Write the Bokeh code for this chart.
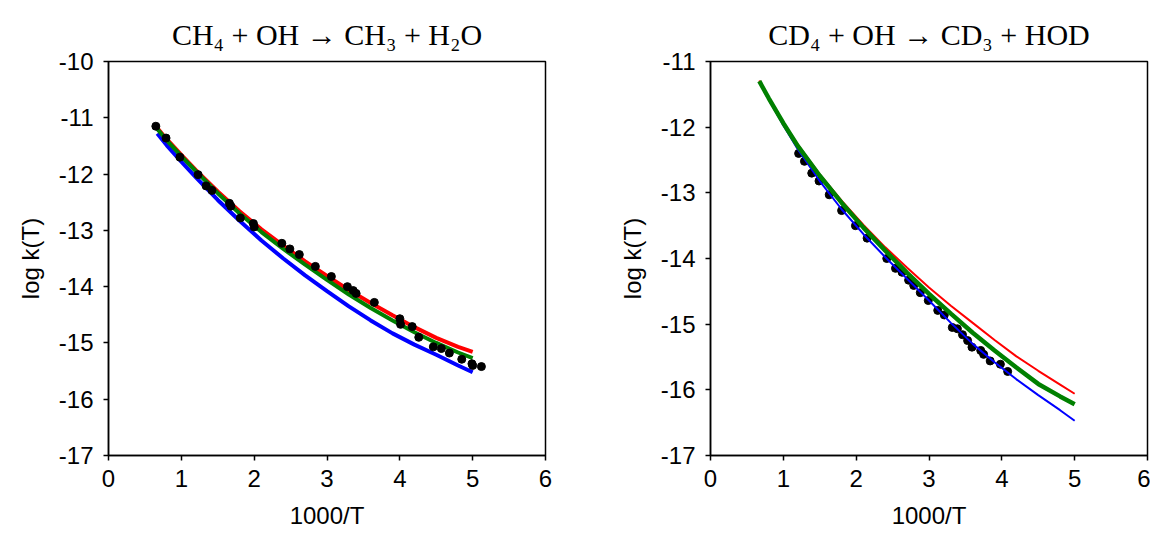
from bokeh.plotting import figure
from bokeh.layouts import row
from bokeh.models import FixedTicker
from bokeh.embed import file_html
from bokeh.resources import INLINE

# ---------------- data: CH4 + OH ----------------
ch4_obs_x = [0.65, 0.79, 0.98, 1.23, 1.34, 1.42, 1.66, 1.68, 1.81, 1.99, 2.00, 2.38, 2.49, 2.62,
             2.84, 3.06, 3.28, 3.36, 3.40, 3.65, 4.00, 4.01, 4.17, 4.26, 4.46, 4.57, 4.68, 4.85,
             4.99, 5.00, 5.12]
ch4_obs_y = [-11.15, -11.36, -11.70, -12.01, -12.21, -12.29, -12.52, -12.57, -12.78, -12.88, -12.94,
             -13.23, -13.33, -13.43, -13.64, -13.82, -14.00, -14.07, -14.12, -14.28, -14.57, -14.67,
             -14.71, -14.90, -15.07, -15.10, -15.18, -15.29, -15.37, -15.40, -15.42]

ch4_x = [0.67, 0.8, 1.0, 1.2, 1.5, 1.8, 2.1, 2.4, 2.7, 3.0, 3.3, 3.6, 3.9, 4.2, 4.5, 4.8, 5.0]
ch4_red = [-11.18, -11.38, -11.66, -11.93, -12.31, -12.66, -12.98, -13.27, -13.55, -13.81, -14.06,
           -14.29, -14.51, -14.72, -14.91, -15.07, -15.16]
ch4_green = [-11.20, -11.40, -11.68, -11.95, -12.34, -12.70, -13.03, -13.33, -13.61, -13.88, -14.14,
             -14.38, -14.60, -14.81, -15.00, -15.17, -15.27]
ch4_blue = [-11.28, -11.49, -11.78, -12.06, -12.46, -12.83, -13.18, -13.50, -13.80, -14.08, -14.35,
            -14.60, -14.83, -15.03, -15.21, -15.40, -15.52]

# ---------------- data: CD4 + OH ----------------
cd4_obs_x = [1.21, 1.29, 1.39, 1.49, 1.63, 1.80, 1.99, 2.15, 2.42, 2.54, 2.63, 2.72, 2.79, 2.88,
             2.99, 3.12, 3.21, 3.32, 3.39, 3.46, 3.53, 3.59, 3.71, 3.75, 3.84, 3.98, 4.08]
cd4_obs_y = [-12.40, -12.52, -12.70, -12.82, -13.03, -13.27, -13.50, -13.69, -14.00, -14.15, -14.21,
             -14.33, -14.41, -14.52, -14.64, -14.79, -14.86, -15.05, -15.07, -15.16, -15.25, -15.35,
             -15.40, -15.46, -15.56, -15.61, -15.72]

cd4_x = [0.67, 0.8, 1.0, 1.2, 1.5, 1.8, 2.1, 2.4, 2.7, 3.0, 3.3, 3.6, 3.9, 4.2, 4.5, 4.8, 5.0]
cd4_red = [-11.29, -11.55, -11.93, -12.27, -12.72, -13.12, -13.49, -13.83, -14.14, -14.44, -14.72,
           -14.98, -15.24, -15.49, -15.71, -15.92, -16.06]
cd4_green = [-11.30, -11.56, -11.94, -12.29, -12.74, -13.15, -13.53, -13.88, -14.22, -14.54, -14.84,
             -15.13, -15.40, -15.66, -15.91, -16.10, -16.22]
cd4_blue = [-11.31, -11.58, -11.97, -12.34, -12.82, -13.25, -13.63, -13.98, -14.31, -14.64, -14.98,
            -15.30, -15.58, -15.84, -16.08, -16.31, -16.47]

x_ticks = [0, 1, 2, 3, 4, 5, 6]

RED = "#ff0000"
GREEN = "#008000"
BLUE = "#0000ff"
SANS = "Liberation Sans"


def make_fig(title, y_ticks, ymin, ymax, left_border, right_border):
    p = figure(width=left_border + 437 + right_border, height=536,
               x_range=(0, 6), y_range=(ymin, ymax),
               output_backend="svg", toolbar_location=None,
               min_border_left=left_border, min_border_right=right_border,
               min_border_top=61, min_border_bottom=81, title=title)
    p.title.text_font = "Liberation Serif"
    p.title.text_font_size = "30px"
    p.title.text_font_style = "normal"
    p.title.align = "center"
    p.title.text_color = "black"
    p.title.standoff = 22
    p.grid.visible = False
    p.outline_line_color = "black"
    p.outline_line_width = 1.5
    p.background_fill_color = "white"
    p.border_fill_color = "white"
    for ax in (p.xaxis, p.yaxis):
        ax.axis_line_color = "black"
        ax.axis_line_width = 1.5
        ax.major_tick_line_color = "black"
        ax.major_tick_line_width = 1.5
        ax.major_tick_out = 5
        ax.major_tick_in = 0
        ax.minor_tick_line_color = None
        ax.major_label_text_font = SANS
        ax.major_label_text_font_size = "24px"
        ax.major_label_text_color = "black"
        ax.axis_label_text_font = SANS
        ax.axis_label_text_font_size = "24px"
        ax.axis_label_text_font_style = "normal"
        ax.axis_label_text_color = "black"
    p.xaxis.ticker = FixedTicker(ticks=x_ticks)
    p.xaxis.major_label_overrides = {t: str(t) for t in x_ticks}
    p.yaxis.ticker = FixedTicker(ticks=y_ticks)
    p.yaxis.major_label_overrides = {t: "-" + str(abs(t)) for t in y_ticks}
    p.xaxis.axis_label = "1000/T"
    p.yaxis.axis_label = "log k(T)"
    p.xaxis.major_label_standoff = 9
    p.yaxis.major_label_standoff = 10
    p.xaxis.axis_label_standoff = 12
    p.yaxis.axis_label_standoff = 12
    return p


p1 = make_fig("CH\u2084 + OH \u2192 CH\u2083 + H\u2082O", [-10, -11, -12, -13, -14, -15, -16, -17],
              -17, -10, 108, 35)
p1.line(ch4_x, ch4_blue, line_color=BLUE, line_width=4)
p1.line(ch4_x, ch4_red, line_color=RED, line_width=4)
p1.line(ch4_x, ch4_green, line_color=GREEN, line_width=4)
p1.scatter(ch4_obs_x, ch4_obs_y, size=8, fill_color="black", line_color="black")

p2 = make_fig("CD\u2084 + OH \u2192 CD\u2083 + HOD", [-11, -12, -13, -14, -15, -16, -17],
              -17, -11, 130, 3)
p2.scatter(cd4_obs_x, cd4_obs_y, size=8, fill_color="black", line_color="black")
p2.line(cd4_x, cd4_red, line_color=RED, line_width=2)
p2.line(cd4_x, cd4_blue, line_color=BLUE, line_width=2)
p2.line(cd4_x, cd4_green, line_color=GREEN, line_width=4.5)

layout = row(p1, p2)
open("out.html", "w").write(file_html(layout, INLINE))
